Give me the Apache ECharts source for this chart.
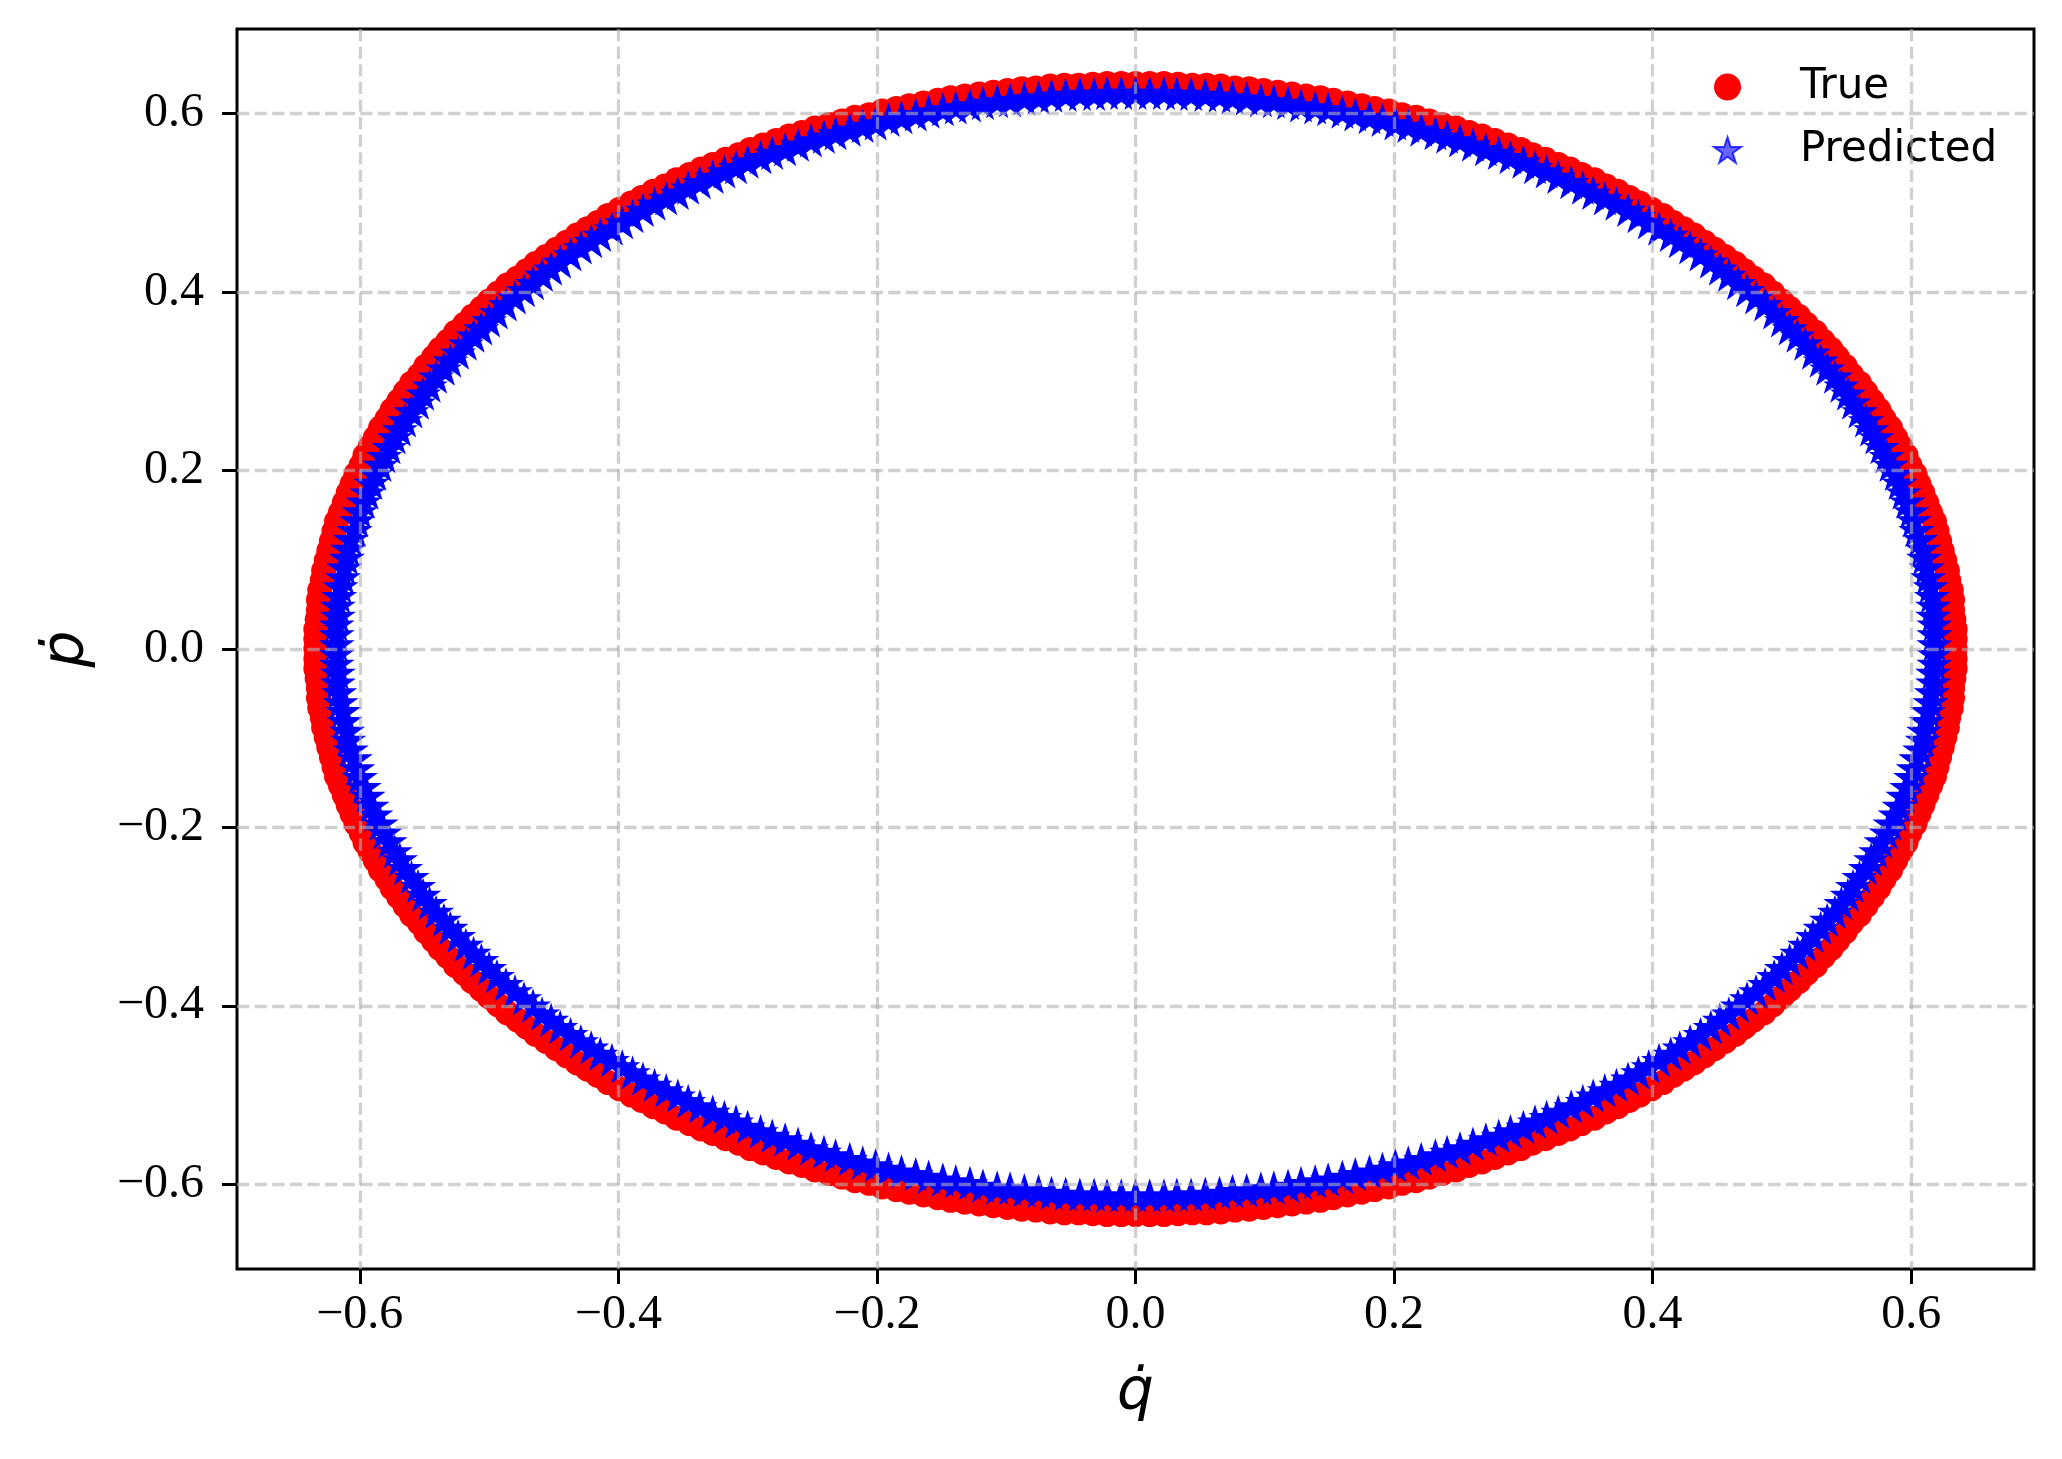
<!DOCTYPE html>
<html>
<head>
<meta charset="utf-8">
<title>True vs Predicted phase portrait</title>
<script src="https://cdn.jsdelivr.net/npm/echarts@6/dist/echarts.min.js"></script>
<style>
  html, body { margin: 0; padding: 0; background: #fff; }
  #chart { width: 2062px; height: 1459px; }
</style>
</head>
<body>
<div id="chart"></div>
<script>
// tick positions on both axes
var qTicks = [-0.6, -0.4, -0.2, 0, 0.2, 0.4, 0.6];
var pTicks = [-0.6, -0.4, -0.2, 0, 0.2, 0.4, 0.6];

// [q_dot, p_dot] pairs ("True")
var truePoints = [
  [0.634,0.000],[0.634,0.011],[0.634,0.022],[0.633,0.033],[0.632,0.044],[0.632,0.055],[0.631,0.066],[0.629,0.077],[0.628,0.088],[0.626,0.099],
  [0.624,0.110],[0.622,0.121],[0.620,0.132],[0.618,0.143],[0.615,0.153],[0.612,0.164],[0.609,0.175],[0.606,0.185],[0.603,0.196],[0.599,0.206],
  [0.596,0.217],[0.592,0.227],[0.588,0.237],[0.584,0.248],[0.579,0.258],[0.575,0.268],[0.570,0.278],[0.565,0.288],[0.560,0.298],[0.554,0.307],
  [0.549,0.317],[0.543,0.327],[0.538,0.336],[0.532,0.345],[0.526,0.355],[0.519,0.364],[0.513,0.373],[0.506,0.382],[0.500,0.390],[0.493,0.399],
  [0.486,0.408],[0.478,0.416],[0.471,0.424],[0.464,0.432],[0.456,0.440],[0.448,0.448],[0.440,0.456],[0.432,0.464],[0.424,0.471],[0.416,0.478],
  [0.408,0.486],[0.399,0.493],[0.390,0.500],[0.382,0.506],[0.373,0.513],[0.364,0.519],[0.355,0.526],[0.345,0.532],[0.336,0.538],[0.327,0.543],
  [0.317,0.549],[0.307,0.554],[0.298,0.560],[0.288,0.565],[0.278,0.570],[0.268,0.575],[0.258,0.579],[0.248,0.584],[0.237,0.588],[0.227,0.592],
  [0.217,0.596],[0.206,0.599],[0.196,0.603],[0.185,0.606],[0.175,0.609],[0.164,0.612],[0.153,0.615],[0.143,0.618],[0.132,0.620],[0.121,0.622],
  [0.110,0.624],[0.099,0.626],[0.088,0.628],[0.077,0.629],[0.066,0.631],[0.055,0.632],[0.044,0.632],[0.033,0.633],[0.022,0.634],[0.011,0.634],
  [0.000,0.634],[-0.011,0.634],[-0.022,0.634],[-0.033,0.633],[-0.044,0.632],[-0.055,0.632],[-0.066,0.631],[-0.077,0.629],[-0.088,0.628],[-0.099,0.626],
  [-0.110,0.624],[-0.121,0.622],[-0.132,0.620],[-0.143,0.618],[-0.153,0.615],[-0.164,0.612],[-0.175,0.609],[-0.185,0.606],[-0.196,0.603],[-0.206,0.599],
  [-0.217,0.596],[-0.227,0.592],[-0.237,0.588],[-0.248,0.584],[-0.258,0.579],[-0.268,0.575],[-0.278,0.570],[-0.288,0.565],[-0.298,0.560],[-0.307,0.554],
  [-0.317,0.549],[-0.327,0.543],[-0.336,0.538],[-0.345,0.532],[-0.355,0.526],[-0.364,0.519],[-0.373,0.513],[-0.382,0.506],[-0.390,0.500],[-0.399,0.493],
  [-0.408,0.486],[-0.416,0.478],[-0.424,0.471],[-0.432,0.464],[-0.440,0.456],[-0.448,0.448],[-0.456,0.440],[-0.464,0.432],[-0.471,0.424],[-0.478,0.416],
  [-0.486,0.408],[-0.493,0.399],[-0.500,0.390],[-0.506,0.382],[-0.513,0.373],[-0.519,0.364],[-0.526,0.355],[-0.532,0.345],[-0.538,0.336],[-0.543,0.327],
  [-0.549,0.317],[-0.554,0.307],[-0.560,0.298],[-0.565,0.288],[-0.570,0.278],[-0.575,0.268],[-0.579,0.258],[-0.584,0.248],[-0.588,0.237],[-0.592,0.227],
  [-0.596,0.217],[-0.599,0.206],[-0.603,0.196],[-0.606,0.185],[-0.609,0.175],[-0.612,0.164],[-0.615,0.153],[-0.618,0.143],[-0.620,0.132],[-0.622,0.121],
  [-0.624,0.110],[-0.626,0.099],[-0.628,0.088],[-0.629,0.077],[-0.631,0.066],[-0.632,0.055],[-0.632,0.044],[-0.633,0.033],[-0.634,0.022],[-0.634,0.011],
  [-0.634,0.000],[-0.634,-0.011],[-0.634,-0.022],[-0.633,-0.033],[-0.632,-0.044],[-0.632,-0.055],[-0.631,-0.066],[-0.629,-0.077],[-0.628,-0.088],[-0.626,-0.099],
  [-0.624,-0.110],[-0.622,-0.121],[-0.620,-0.132],[-0.618,-0.143],[-0.615,-0.153],[-0.612,-0.164],[-0.609,-0.175],[-0.606,-0.185],[-0.603,-0.196],[-0.599,-0.206],
  [-0.596,-0.217],[-0.592,-0.227],[-0.588,-0.237],[-0.584,-0.248],[-0.579,-0.258],[-0.575,-0.268],[-0.570,-0.278],[-0.565,-0.288],[-0.560,-0.298],[-0.554,-0.307],
  [-0.549,-0.317],[-0.543,-0.327],[-0.538,-0.336],[-0.532,-0.345],[-0.526,-0.355],[-0.519,-0.364],[-0.513,-0.373],[-0.506,-0.382],[-0.500,-0.390],[-0.493,-0.399],
  [-0.486,-0.408],[-0.478,-0.416],[-0.471,-0.424],[-0.464,-0.432],[-0.456,-0.440],[-0.448,-0.448],[-0.440,-0.456],[-0.432,-0.464],[-0.424,-0.471],[-0.416,-0.478],
  [-0.408,-0.486],[-0.399,-0.493],[-0.390,-0.500],[-0.382,-0.506],[-0.373,-0.513],[-0.364,-0.519],[-0.355,-0.526],[-0.345,-0.532],[-0.336,-0.538],[-0.327,-0.543],
  [-0.317,-0.549],[-0.307,-0.554],[-0.298,-0.560],[-0.288,-0.565],[-0.278,-0.570],[-0.268,-0.575],[-0.258,-0.579],[-0.248,-0.584],[-0.237,-0.588],[-0.227,-0.592],
  [-0.217,-0.596],[-0.206,-0.599],[-0.196,-0.603],[-0.185,-0.606],[-0.175,-0.609],[-0.164,-0.612],[-0.153,-0.615],[-0.143,-0.618],[-0.132,-0.620],[-0.121,-0.622],
  [-0.110,-0.624],[-0.099,-0.626],[-0.088,-0.628],[-0.077,-0.629],[-0.066,-0.631],[-0.055,-0.632],[-0.044,-0.632],[-0.033,-0.633],[-0.022,-0.634],[-0.011,-0.634],
  [0.000,-0.634],[0.011,-0.634],[0.022,-0.634],[0.033,-0.633],[0.044,-0.632],[0.055,-0.632],[0.066,-0.631],[0.077,-0.629],[0.088,-0.628],[0.099,-0.626],
  [0.110,-0.624],[0.121,-0.622],[0.132,-0.620],[0.143,-0.618],[0.153,-0.615],[0.164,-0.612],[0.175,-0.609],[0.185,-0.606],[0.196,-0.603],[0.206,-0.599],
  [0.217,-0.596],[0.227,-0.592],[0.237,-0.588],[0.248,-0.584],[0.258,-0.579],[0.268,-0.575],[0.278,-0.570],[0.288,-0.565],[0.298,-0.560],[0.307,-0.554],
  [0.317,-0.549],[0.327,-0.543],[0.336,-0.538],[0.345,-0.532],[0.355,-0.526],[0.364,-0.519],[0.373,-0.513],[0.382,-0.506],[0.390,-0.500],[0.399,-0.493],
  [0.408,-0.486],[0.416,-0.478],[0.424,-0.471],[0.432,-0.464],[0.440,-0.456],[0.448,-0.448],[0.456,-0.440],[0.464,-0.432],[0.471,-0.424],[0.478,-0.416],
  [0.486,-0.408],[0.493,-0.399],[0.500,-0.390],[0.506,-0.382],[0.513,-0.373],[0.519,-0.364],[0.526,-0.355],[0.532,-0.345],[0.538,-0.336],[0.543,-0.327],
  [0.549,-0.317],[0.554,-0.307],[0.560,-0.298],[0.565,-0.288],[0.570,-0.278],[0.575,-0.268],[0.579,-0.258],[0.584,-0.248],[0.588,-0.237],[0.592,-0.227],
  [0.596,-0.217],[0.599,-0.206],[0.603,-0.196],[0.606,-0.185],[0.609,-0.175],[0.612,-0.164],[0.615,-0.153],[0.618,-0.143],[0.620,-0.132],[0.622,-0.121],
  [0.624,-0.110],[0.626,-0.099],[0.628,-0.088],[0.629,-0.077],[0.631,-0.066],[0.632,-0.055],[0.632,-0.044],[0.633,-0.033],[0.634,-0.022],[0.634,-0.011]
];

var predPoints = [
  [0.618,0.005],[0.618,0.016],[0.618,0.027],[0.617,0.037],[0.617,0.048],[0.616,0.059],[0.615,0.070],[0.613,0.080],[0.612,0.091],[0.610,0.102],
  [0.609,0.112],[0.607,0.123],[0.604,0.133],[0.602,0.144],[0.600,0.154],[0.597,0.165],[0.594,0.175],[0.591,0.186],[0.588,0.196],[0.584,0.206],
  [0.581,0.216],[0.577,0.226],[0.573,0.237],[0.569,0.246],[0.565,0.256],[0.560,0.266],[0.555,0.276],[0.551,0.286],[0.546,0.295],[0.541,0.305],
  [0.535,0.314],[0.530,0.323],[0.524,0.332],[0.518,0.342],[0.512,0.351],[0.506,0.359],[0.500,0.368],[0.494,0.377],[0.487,0.386],[0.480,0.394],
  [0.473,0.402],[0.466,0.410],[0.459,0.419],[0.452,0.426],[0.445,0.434],[0.437,0.442],[0.429,0.450],[0.421,0.457],[0.414,0.464],[0.405,0.471],
  [0.397,0.478],[0.389,0.485],[0.381,0.492],[0.372,0.499],[0.363,0.505],[0.354,0.511],[0.346,0.517],[0.337,0.523],[0.327,0.529],[0.318,0.535],
  [0.309,0.540],[0.300,0.546],[0.290,0.551],[0.281,0.556],[0.271,0.560],[0.261,0.565],[0.251,0.570],[0.241,0.574],[0.232,0.578],[0.221,0.582],
  [0.211,0.586],[0.201,0.589],[0.191,0.593],[0.181,0.596],[0.170,0.599],[0.160,0.602],[0.149,0.605],[0.139,0.607],[0.128,0.609],[0.118,0.612],
  [0.107,0.614],[0.097,0.615],[0.086,0.617],[0.075,0.618],[0.065,0.620],[0.054,0.621],[0.043,0.622],[0.032,0.622],[0.022,0.623],[0.011,0.623],
  [0.000,0.623],[-0.011,0.623],[-0.022,0.623],[-0.032,0.622],[-0.043,0.622],[-0.054,0.621],[-0.065,0.620],[-0.075,0.618],[-0.086,0.617],[-0.097,0.615],
  [-0.107,0.614],[-0.118,0.612],[-0.128,0.609],[-0.139,0.607],[-0.149,0.605],[-0.160,0.602],[-0.170,0.599],[-0.181,0.596],[-0.191,0.593],[-0.201,0.589],
  [-0.211,0.586],[-0.221,0.582],[-0.232,0.578],[-0.241,0.574],[-0.251,0.570],[-0.261,0.565],[-0.271,0.560],[-0.281,0.556],[-0.290,0.551],[-0.300,0.546],
  [-0.309,0.540],[-0.318,0.535],[-0.327,0.529],[-0.337,0.523],[-0.346,0.517],[-0.354,0.511],[-0.363,0.505],[-0.372,0.499],[-0.381,0.492],[-0.389,0.485],
  [-0.397,0.478],[-0.405,0.471],[-0.414,0.464],[-0.421,0.457],[-0.429,0.450],[-0.437,0.442],[-0.445,0.434],[-0.452,0.426],[-0.459,0.419],[-0.466,0.410],
  [-0.473,0.402],[-0.480,0.394],[-0.487,0.386],[-0.494,0.377],[-0.500,0.368],[-0.506,0.359],[-0.512,0.351],[-0.518,0.342],[-0.524,0.332],[-0.530,0.323],
  [-0.535,0.314],[-0.541,0.305],[-0.546,0.295],[-0.551,0.286],[-0.555,0.276],[-0.560,0.266],[-0.565,0.256],[-0.569,0.246],[-0.573,0.237],[-0.577,0.226],
  [-0.581,0.216],[-0.584,0.206],[-0.588,0.196],[-0.591,0.186],[-0.594,0.175],[-0.597,0.165],[-0.600,0.154],[-0.602,0.144],[-0.604,0.133],[-0.607,0.123],
  [-0.609,0.112],[-0.610,0.102],[-0.612,0.091],[-0.613,0.080],[-0.615,0.070],[-0.616,0.059],[-0.617,0.048],[-0.617,0.037],[-0.618,0.027],[-0.618,0.016],
  [-0.618,0.005],[-0.618,-0.006],[-0.618,-0.017],[-0.617,-0.027],[-0.617,-0.038],[-0.616,-0.049],[-0.615,-0.060],[-0.613,-0.070],[-0.612,-0.081],[-0.610,-0.092],
  [-0.609,-0.102],[-0.607,-0.113],[-0.604,-0.123],[-0.602,-0.134],[-0.600,-0.144],[-0.597,-0.155],[-0.594,-0.165],[-0.591,-0.176],[-0.588,-0.186],[-0.584,-0.196],
  [-0.581,-0.206],[-0.577,-0.216],[-0.573,-0.227],[-0.569,-0.236],[-0.565,-0.246],[-0.560,-0.256],[-0.555,-0.266],[-0.551,-0.276],[-0.546,-0.285],[-0.541,-0.295],
  [-0.535,-0.304],[-0.530,-0.313],[-0.524,-0.322],[-0.518,-0.332],[-0.512,-0.341],[-0.506,-0.349],[-0.500,-0.358],[-0.494,-0.367],[-0.487,-0.376],[-0.480,-0.384],
  [-0.473,-0.392],[-0.466,-0.400],[-0.459,-0.409],[-0.452,-0.416],[-0.445,-0.424],[-0.437,-0.432],[-0.429,-0.440],[-0.421,-0.447],[-0.414,-0.454],[-0.405,-0.461],
  [-0.397,-0.468],[-0.389,-0.475],[-0.381,-0.482],[-0.372,-0.489],[-0.363,-0.495],[-0.354,-0.501],[-0.346,-0.507],[-0.337,-0.513],[-0.327,-0.519],[-0.318,-0.525],
  [-0.309,-0.530],[-0.300,-0.536],[-0.290,-0.541],[-0.281,-0.546],[-0.271,-0.550],[-0.261,-0.555],[-0.251,-0.560],[-0.241,-0.564],[-0.232,-0.568],[-0.221,-0.572],
  [-0.211,-0.576],[-0.201,-0.579],[-0.191,-0.583],[-0.181,-0.586],[-0.170,-0.589],[-0.160,-0.592],[-0.149,-0.595],[-0.139,-0.597],[-0.128,-0.599],[-0.118,-0.602],
  [-0.107,-0.604],[-0.097,-0.605],[-0.086,-0.607],[-0.075,-0.608],[-0.065,-0.610],[-0.054,-0.611],[-0.043,-0.612],[-0.032,-0.612],[-0.022,-0.613],[-0.011,-0.613],
  [0.000,-0.613],[0.011,-0.613],[0.022,-0.613],[0.032,-0.612],[0.043,-0.612],[0.054,-0.611],[0.065,-0.610],[0.075,-0.608],[0.086,-0.607],[0.097,-0.605],
  [0.107,-0.604],[0.118,-0.602],[0.128,-0.599],[0.139,-0.597],[0.149,-0.595],[0.160,-0.592],[0.170,-0.589],[0.181,-0.586],[0.191,-0.583],[0.201,-0.579],
  [0.211,-0.576],[0.221,-0.572],[0.232,-0.568],[0.241,-0.564],[0.251,-0.560],[0.261,-0.555],[0.271,-0.550],[0.281,-0.546],[0.290,-0.541],[0.300,-0.536],
  [0.309,-0.530],[0.318,-0.525],[0.327,-0.519],[0.337,-0.513],[0.346,-0.507],[0.354,-0.501],[0.363,-0.495],[0.372,-0.489],[0.381,-0.482],[0.389,-0.475],
  [0.397,-0.468],[0.405,-0.461],[0.414,-0.454],[0.421,-0.447],[0.429,-0.440],[0.437,-0.432],[0.445,-0.424],[0.452,-0.416],[0.459,-0.409],[0.466,-0.400],
  [0.473,-0.392],[0.480,-0.384],[0.487,-0.376],[0.494,-0.367],[0.500,-0.358],[0.506,-0.349],[0.512,-0.341],[0.518,-0.332],[0.524,-0.322],[0.530,-0.313],
  [0.535,-0.304],[0.541,-0.295],[0.546,-0.285],[0.551,-0.276],[0.555,-0.266],[0.560,-0.256],[0.565,-0.246],[0.569,-0.236],[0.573,-0.227],[0.577,-0.216],
  [0.581,-0.206],[0.584,-0.196],[0.588,-0.186],[0.591,-0.176],[0.594,-0.165],[0.597,-0.155],[0.600,-0.144],[0.602,-0.134],[0.604,-0.123],[0.607,-0.113],
  [0.609,-0.102],[0.610,-0.092],[0.612,-0.081],[0.613,-0.070],[0.615,-0.060],[0.616,-0.049],[0.617,-0.038],[0.617,-0.027],[0.618,-0.017],[0.618,-0.006]
];

var STAR = "path://M50 0L61.23 34.55L97.55 34.55L68.17 55.9L79.39 90.45L50 69.1L20.61 90.45L31.83 55.9L2.45 34.55L38.77 34.55Z";
var SERIF = "'Liberation Serif', 'Times New Roman', serif";
var MATH = "'DejaVu Sans', sans-serif";

function tickFmt(v) {
  // matplotlib uses a real minus sign
  return v.toFixed(1).replace("-", "\u2212");
}

var gridLine = {
  show: true,
  lineStyle: { color: "rgba(176,176,176,0.6)", width: 3.3, type: [12.3, 5.3] },
};

var chart = echarts.init(document.getElementById("chart"));

chart.setOption({
  animation: false,
  backgroundColor: "#ffffff",
  grid: {
    left: 237,
    right: 28,
    top: 29,
    bottom: 190,
    show: true,
    borderColor: "#000",
    borderWidth: 3,
    backgroundColor: "transparent",
    containLabel: false,
    outerBoundsMode: "none",
  },
  legend: {
    orient: "vertical",
    left: 1708,
    top: 61,
    itemWidth: 27,
    itemHeight: 27,
    itemGap: 21,
    textStyle: {
      fontFamily: MATH,
      fontSize: 42,
      color: "#000",
      padding: [0, 0, 0, 54],
    },
    data: [
      { name: "True", icon: "circle", itemStyle: { color: "#ff0000", opacity: 1 } },
      {
        name: "Predicted",
        icon: STAR,
        itemStyle: { color: "rgba(0,0,255,0.6)", borderColor: "rgba(0,0,255,0.75)", borderWidth: 2, opacity: 1 },
      },
    ],
  },
  xAxis: {
    type: "value",
    min: -0.695,
    max: 0.695,
    z: 10,
    name: "q\u0307",
    nameLocation: "middle",
    nameGap: 96,
    nameTextStyle: { fontFamily: MATH, fontStyle: "italic", fontSize: 58, color: "#000" },
    axisLine: { show: false, onZero: false },
    axisTick: {
      show: true,
      length: 15,
      customValues: qTicks,
      lineStyle: { color: "#000", width: 3 },
    },
    axisLabel: {
      customValues: qTicks,
      formatter: tickFmt,
      fontFamily: SERIF,
      fontSize: 48,
      color: "#000",
      margin: 22,
    },
    splitLine: gridLine,
  },
  yAxis: {
    type: "value",
    min: -0.695,
    max: 0.695,
    z: 10,
    name: "\u1E57",
    nameLocation: "middle",
    nameGap: 140,
    nameRotate: 90,
    nameTextStyle: { fontFamily: MATH, fontStyle: "italic", fontSize: 58, color: "#000" },
    axisLine: { show: false, onZero: false },
    axisTick: {
      show: true,
      length: 15,
      customValues: pTicks,
      lineStyle: { color: "#000", width: 3 },
    },
    axisLabel: {
      customValues: pTicks,
      formatter: tickFmt,
      fontFamily: SERIF,
      fontSize: 48,
      color: "#000",
      margin: 33,
    },
    splitLine: gridLine,
  },
  series: [
    {
      name: "True",
      type: "scatter",
      data: truePoints,
      symbol: "circle",
      symbolSize: 25,
      itemStyle: { color: "#ff0000", opacity: 1 },
      z: 2,
    },
    {
      name: "Predicted",
      type: "scatter",
      data: predPoints,
      symbol: STAR,
      symbolKeepAspect: true,
      symbolSize: 30,
      itemStyle: {
        color: "#0000ff",
        borderColor: "#0000ff",
        borderWidth: 2,
        opacity: 1,
      },
      z: 3,
    },
  ],
});
</script>
</body>
</html>
